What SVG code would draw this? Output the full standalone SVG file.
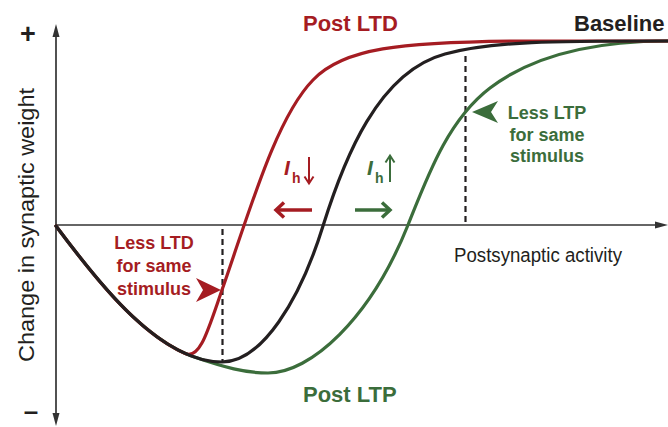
<svg xmlns="http://www.w3.org/2000/svg" width="668" height="427" viewBox="0 0 668 427">
<defs>
<style>
.ax{stroke:#333;stroke-width:1.7;fill:none}
.axh{fill:#333}
.crv{fill:none;stroke-width:3.2;stroke-linecap:round;stroke-linejoin:round}
.red{stroke:#a51c22}
.grn{stroke:#3b6d3b}
.blk{stroke:#231f20}
.dash{stroke:#231f20;stroke-width:2.2;stroke-dasharray:6 4;fill:none}
.t{font-family:"Liberation Sans",Arial,sans-serif}
.b{font-weight:bold}
.fr{fill:#a51c22}
.fg{fill:#3b6d3b}
.fk{fill:#231f20}
</style>
</defs>
<rect width="668" height="427" fill="#fff"/>
<g id="axes">
<line class="ax" x1="56" y1="34" x2="56" y2="416"/>
<polygon class="axh" points="56,24 52.5,37 59.5,37"/>
<polygon class="axh" points="56,426 52.5,413 59.5,413"/>
<line class="ax" x1="56" y1="225" x2="658" y2="225"/>
<polygon class="axh" points="668,225 655,221.5 655,228.5"/>
<text class="t b fk" x="28" y="42.5" font-size="27" text-anchor="middle">+</text>
<text class="t b fk" x="31" y="419.5" font-size="26" text-anchor="middle">–</text>
<text class="t" fill="#231f20" font-size="22" text-anchor="middle" transform="translate(34,225) rotate(-90)" textLength="274" lengthAdjust="spacingAndGlyphs">Change in synaptic weight</text>
<text class="t" fill="#231f20" font-size="20" x="454" y="262" textLength="168" lengthAdjust="spacingAndGlyphs">Postsynaptic activity</text>
</g>
<g id="dashed">
<line class="dash" x1="222.5" y1="229" x2="222.5" y2="363"/>
<line class="dash" x1="465.5" y1="56" x2="465.5" y2="222"/>
</g>
<g id="connectors">
<path id="post-ltp" class="crv grn" d="M56,226 C93.4,276.15 142.4,339.3 194.3,357.1 C224.3,367.4 245,373 268,373 C310,373 370,320 408,225 C428,175 448,120 490,88 C530,57.5 590,41 668,41"/>
<path id="post-ltd" class="crv red" d="M56,226 C91.2,273.2 136.6,331.9 185.2,353.5 C200,360 208,330 222,290 C250,210 276,118 313,80 C343,48 400,42 520,41 L668,41"/>
<path id="baseline" class="crv blk" d="M56,226 C100,285 160,362 222,362 C262,362 300,300 323,226 C344,159 378,72 445,54 C495,40.6 560,41 668,41"/>
<g id="shift-arrows" fill="none" stroke-linecap="butt">
<line x1="312" y1="210" x2="276" y2="210" stroke="#a51c22" stroke-width="3.5"/>
<polyline points="284,202.5 276,210 284,217.5" stroke="#a51c22" stroke-width="3.5"/>
<line x1="355" y1="210" x2="390" y2="210" stroke="#3b6d3b" stroke-width="3.5"/>
<polyline points="382,202.5 390,210 382,217.5" stroke="#3b6d3b" stroke-width="3.5"/>
<line x1="309" y1="157" x2="309" y2="183" stroke="#a51c22" stroke-width="2"/>
<polyline points="304.5,176.5 309,183.5 313.5,176.5" stroke="#a51c22" stroke-width="2"/>
<line x1="390" y1="182" x2="390" y2="156" stroke="#3b6d3b" stroke-width="2"/>
<polyline points="385.5,162.5 390,155.5 394.5,162.5" stroke="#3b6d3b" stroke-width="2"/>
</g>
<polygon id="ltd-pointer" class="fr" points="221,290 196,278 203,290 196,302"/>
<polygon id="ltp-pointer" class="fg" points="472,112 498,101 491,112 498,123"/>
</g>
<g id="label-post-ltd"><text class="t b fr" x="303" y="31" font-size="22">Post LTD</text></g>
<g id="label-baseline"><text class="t b fk" x="574" y="31" font-size="22">Baseline</text></g>
<g id="label-post-ltp"><text class="t b fg" x="303" y="402" font-size="22">Post LTP</text></g>
<g id="label-less-ltp" class="t b fg" font-size="18" text-anchor="middle">
<text x="547" y="119">Less LTP</text>
<text x="547" y="141">for same</text>
<text x="547" y="162">stimulus</text>
</g>
<g id="label-less-ltd" class="t b fr" font-size="18" text-anchor="middle">
<text x="154" y="249">Less LTD</text>
<text x="154" y="272">for same</text>
<text x="154" y="295">stimulus</text>
</g>
<g id="label-ih-down" class="t b fr">
<text x="284" y="175" font-size="21" font-style="italic">I</text>
<text x="292" y="183" font-size="14">h</text>
</g>
<g id="label-ih-up" class="t b fg">
<text x="367" y="175" font-size="21" font-style="italic">I</text>
<text x="375" y="183" font-size="14">h</text>
</g>
</svg>
